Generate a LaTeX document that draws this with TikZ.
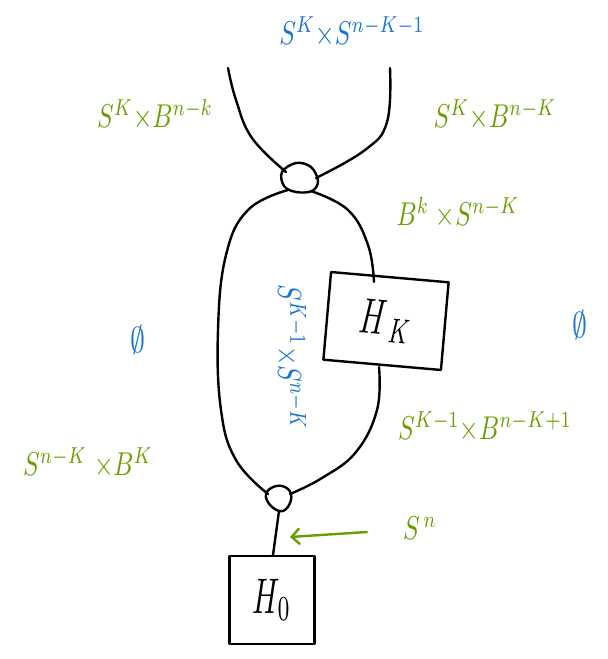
\documentclass[tikz,border=0pt]{standalone}
\usepackage{amsmath,amssymb}
\usepackage{graphicx}
\usetikzlibrary{arrows.meta}
\definecolor{hgreen}{RGB}{106,158,0}
\definecolor{hblue}{RGB}{24,116,208}
\newcommand{\hw}[1]{\scalebox{2.5}[3.3]{$#1$}}
\newcommand{\hb}[1]{\scalebox{3.0}[5.0]{$#1$}}
\begin{document}
\begin{tikzpicture}[x=1pt,y=-1pt,
  ink/.style={line width=2.4pt,line cap=round,line join=round},
  gl/.style={text=hgreen,inner sep=0pt},
  bl/.style={text=hblue,inner sep=0pt},
  hbox/.style={draw,ink,minimum width=85pt,minimum height=88pt,inner sep=0pt}]
\useasboundingbox (0,0) rectangle (608,659);
% boxes
\node[hbox,minimum width=118pt,minimum height=88pt,rotate=-5] (HK) at (386,321) {\hb{H_{\,K}}};
\node[hbox] (H0) at (272,600) {\hb{H_0}};
% blobs
\coordinate (ub) at (298,179);
\coordinate (lb) at (277,499);
\draw[ink] plot[smooth cycle,tension=0.6] coordinates {(282,172) (296,163) (311,167) (318,181) (312,191) (296,192) (284,186)};
\draw[ink] plot[smooth cycle,tension=0.7] coordinates {(266,494) (276,486) (288,489) (291,500) (283,511) (271,506)};
% top strands
\coordinate (tl) at (228,68);
\coordinate (tr) at (390,68);
\draw[ink] plot[smooth,tension=0.7] coordinates {(tl) (236,100) (252,138) (286,172)};
\draw[ink] plot[smooth,tension=0.7] coordinates {(tr) (387,122) (365,150) (316,178)};
% loop
\coordinate (hkt) at (374,282);
\coordinate (hkb) at (379,367);
\draw[ink] plot[smooth,tension=0.7] coordinates {(288,190) (248,210) (226,255) (218,330) (221,410) (236,460) (268,494)};
\draw[ink] plot[smooth,tension=0.7] coordinates {(311,191) (348,210) (368,245) (hkt)};
\draw[ink] plot[smooth,tension=0.7] coordinates {(hkb) (377,410) (356,452) (322,478) (290,494)};
% stem
\draw[ink] (279,511) -- (273,555);
% arrow
\coordinate (as) at (367,532);
\coordinate (ae) at (290,537);
\draw[ink,hgreen,-{Straight Barb[length=8pt,width=16pt]}] (as) -- (ae);
% labels
\node[bl] (top) at (352,32) {\hw{S^K{\times}S^{n-K-1}}};
\node[gl] (l1) at (155,115) {\hw{S^K{\times}B^{n-k}}};
\node[gl] (r1) at (495,115) {\hw{S^K{\times}B^{n-K}}};
\node[gl] (r2) at (458,213) {\hw{B^k\;{\times}S^{n-K}}};
\node[bl] (e1) at (138,340) {\scalebox{3}[3.6]{$\emptyset$}};
\node[bl] (e2) at (580,325) {\scalebox{3}[3.6]{$\emptyset$}};
\node[bl,rotate=-90] (mid) at (291,357) {\hw{S^{K-1}{\times}S^{n-K}}};
\node[gl] (r3) at (485,427) {\hw{S^{K-1}{\times}B^{n-K+1}}};
\node[gl] (l2) at (88,463) {\hw{S^{n-K}\;{\times}B^K}};
\node[gl] (sn) at (420,528) {\hw{S^{\,n}}};
\end{tikzpicture}
\end{document}
